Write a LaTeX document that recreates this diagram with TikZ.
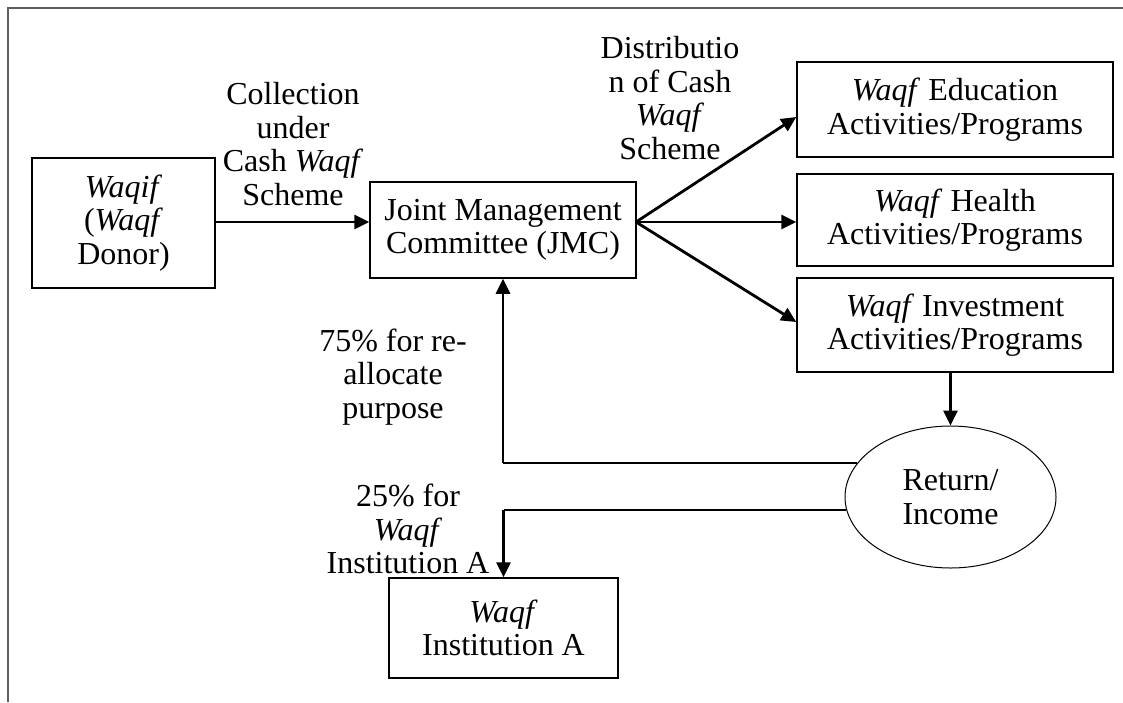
\documentclass[tikz,border=0pt]{standalone}
\usepackage{fontspec}
\setmainfont{Liberation Serif}
\usetikzlibrary{arrows.meta,shapes.geometric}
\tikzset{
  txt/.style={font=\fontsize{32}{33.5}\selectfont, align=center, inner sep=0pt},
  box/.style={txt, draw=black, line width=1.5pt, minimum width=#1},
  arr/.style={line width=2.8pt, -{Triangle[length=15pt,width=14pt]}},
  thin/.style={line width=1.4pt},
  frameline/.style={line width=1.5pt, draw={rgb,255:red,95;green,95;blue,95}}
}
\begin{document}
\begin{tikzpicture}[x=1pt,y=-1pt]
\useasboundingbox (0,0) rectangle (1123,702);
\draw[frameline] (8,702) -- (8,8) -- (1123,8);

\node[box=183pt, minimum height=130pt] (waqif) at (123.5,223) {\textit{Waqif}\\(\textit{Waqf}\\Donor)};
\node[box=266pt, minimum height=96pt] (jmc) at (503,230) {Joint Management\\Committee (JMC)};
\node[box=316pt, minimum height=95pt] (edu) at (955,109.5) {\textit{Waqf} Education\\Activities/Programs};
\node[box=316pt, minimum height=92pt] (health) at (955,220) {\textit{Waqf} Health\\Activities/Programs};
\node[box=316pt, minimum height=94pt] (inv) at (955,325) {\textit{Waqf} Investment\\Activities/Programs};
\node[box=229pt, minimum height=100pt] (inst) at (503.5,628) {\textit{Waqf}\\Institution A};
\node[txt, draw=black, line width=1pt, ellipse, minimum width=211pt, minimum height=142pt] (ret) at (950.5,497) {Return/\\Income};

\node[txt] (coll) at (293,144) {Collection\\under\\Cash \textit{Waqf}\\Scheme};
\node[txt] (dist) at (670,98) {Distributio\\n of Cash\\\textit{Waqf}\\Scheme};
\node[txt] (p75) at (393,377) {75\% for re-\\allocate\\purpose};
\node[txt] (p25) at (408,529) {25\% for\\\textit{Waqf}\\Institution A};

\coordinate (jo) at (636,222);
\draw[arr] (waqif.east |- jo) -- (jo -| jmc.west);
\draw[arr] (jo) -- (edu.west |- 0,117);
\draw[arr] (jo) -- (jo -| health.west);
\draw[arr] (jo) -- (inv.west |- 0,322);
\draw[arr] (ret.north |- inv.south) -- (ret.north);

\coordinate (up) at (ret.160 -| jmc.south);
\draw[thin] (ret.160) -- (up);
\draw[arr] (up) -- (jmc.south);
\coordinate (down) at (ret.187 -| inst.north);
\draw[thin] (ret.187) -- (down);
\draw[arr] (down) -- (inst.north);
\end{tikzpicture}
\end{document}
